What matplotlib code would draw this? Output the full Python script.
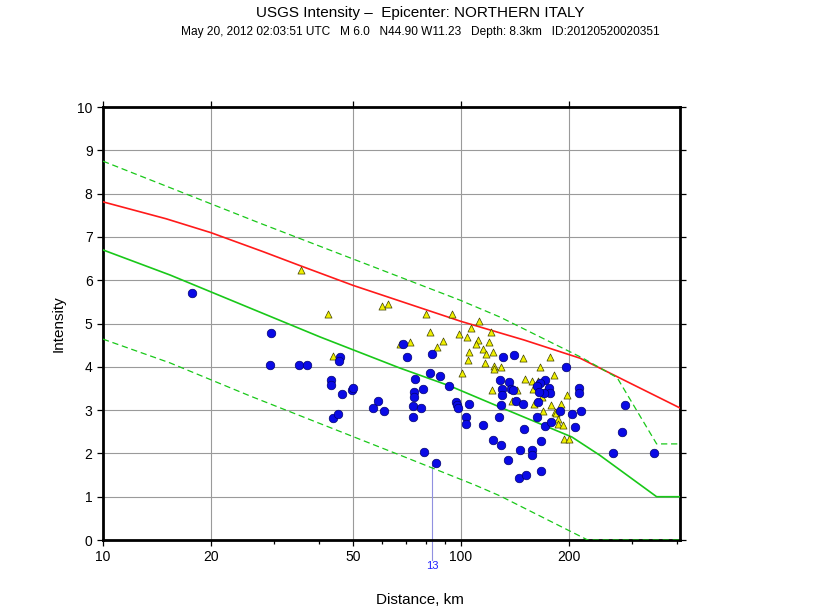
import matplotlib
matplotlib.use("Agg")
import matplotlib.pyplot as plt
from matplotlib.ticker import FixedLocator, NullFormatter

plt.rcParams["font.family"] = ["Liberation Sans", "DejaVu Sans"]

TITLE = "USGS Intensity \u2013  Epicenter: NORTHERN ITALY"
SUBTITLE = "May 20, 2012 02:03:51 UTC   M 6.0   N44.90 W11.23   Depth: 8.3km   ID:20120520020351"

# observed intensities (blue circles)
obs_dist = [17.7, 29.5, 29.3, 35.3, 37.1, 45.9, 45.6, 43.4, 43.4, 46.5, 49.6, 49.9,
            43.9, 45.3, 58.7, 56.8, 61.0, 68.9, 70.7, 83.0, 74.4, 81.9, 87.4, 92.6,
            78.3, 73.9, 73.9, 73.4, 77.3, 73.4, 78.8, 85.1, 96.8, 97.5, 98.1, 105.3,
            103.3, 103.3, 115.2, 129.3, 127.7, 131.0, 140.6, 128.5, 136.2, 130.2,
            130.2, 138.0, 139.8, 142.5, 149.1, 150.0, 122.9, 129.3, 135.3, 146.2,
            157.9, 157.9, 167.3, 145.2, 151.9, 167.3, 171.6, 178.4, 163.1, 196.5,
            171.6, 166.2, 163.1, 176.2, 177.3, 170.6, 165.2, 164.1, 213.6, 213.6,
            189.0, 204.2, 216.4, 208.2, 287.1, 281.6, 265.8, 346.0]
obs_mmi = [5.70, 4.78, 4.04, 4.04, 4.04, 4.23, 4.13, 3.70, 3.58, 3.37, 3.46, 3.51,
           2.82, 2.91, 3.21, 3.05, 2.98, 4.53, 4.23, 4.30, 3.72, 3.86, 3.79, 3.56,
           3.49, 3.42, 3.30, 3.09, 3.05, 2.84, 2.03, 1.78, 3.19, 3.12, 3.05, 3.14,
           2.84, 2.68, 2.66, 3.12, 2.84, 4.23, 4.27, 3.70, 3.65, 3.49,
           3.35, 3.49, 3.46, 3.21, 3.14, 2.56, 2.31, 2.19, 1.85, 2.08,
           2.08, 1.96, 2.29, 1.43, 1.50, 1.59, 2.63, 2.73, 2.84, 4.00,
           3.70, 3.63, 3.56, 3.51, 3.39, 3.39, 3.42, 3.19, 3.51, 3.39,
           2.98, 2.91, 2.98, 2.61, 3.12, 2.49, 2.01, 2.01]

# "Did you feel it" reports (yellow triangles)
dyfi_dist = [35.7, 42.5, 43.9, 60.2, 62.5, 79.8, 81.9, 89.1, 85.7, 72.0, 67.5, 94.4,
             112.3, 106.6, 98.7, 103.9, 121.3, 111.6, 110.2, 119.7, 115.2, 105.3,
             117.5, 122.9, 104.6, 116.7, 123.7, 123.7, 129.3, 149.1, 177.3, 166.2,
             181.9, 100.6, 151.0, 157.9, 164.1, 122.1, 143.4, 158.9, 172.7, 197.8,
             168.4, 138.9, 159.9, 178.4, 190.2, 169.5, 183.1, 184.3, 186.6, 186.6,
             192.7, 194.0, 200.3]
dyfi_mmi = [6.24, 5.22, 4.25, 5.40, 5.45, 5.22, 4.80, 4.60, 4.46, 4.57, 4.53, 5.22,
            5.06, 4.90, 4.76, 4.69, 4.80, 4.62, 4.53, 4.57, 4.41, 4.34,
            4.30, 4.34, 4.16, 4.09, 4.02, 3.95, 4.00, 4.20, 4.23, 4.00,
            3.81, 3.86, 3.72, 3.67, 3.67, 3.46, 3.46, 3.49, 3.49, 3.35,
            3.30, 3.21, 3.14, 3.12, 3.14, 2.98, 2.96, 2.93, 2.79, 2.68,
            2.66, 2.33, 2.33]

# red curve
red_dist = [10, 15, 20, 28, 35.7, 50, 100, 150, 215, 304, 409]
red_mmi = [7.81, 7.42, 7.10, 6.66, 6.33, 5.88, 5.05, 4.62, 4.20, 3.58, 3.05]

# green median and +/- curves
med_dist = [10, 15.4, 25.7, 40.4, 67.6, 93, 128.5, 204, 244, 352, 409]
med_mmi = [6.70, 6.12, 5.36, 4.69, 3.97, 3.56, 3.07, 2.38, 1.96, 1.0, 1.0]
up_dist = [10, 27.4, 99.4, 128.5, 219, 273, 352, 409]
up_mmi = [8.75, 7.32, 5.54, 5.15, 4.20, 3.75, 2.22, 2.22]
lo_dist = [10, 15.4, 25.7, 67.6, 109.4, 128.5, 226, 409]
lo_mmi = [4.64, 4.09, 3.33, 1.96, 1.27, 1.02, 0.0, 0.0]

MARK_DIST = 83.0
MARK_MMI = 1.78
MARK_LABEL = "13"

fig = plt.figure(figsize=(8.4, 6.12), dpi=100)
ax = fig.add_axes([0.1226, 0.1176, 0.6869, 0.7075])

ax.set_xscale("log")
ax.set_xlim(10, 409)
ax.set_ylim(0, 10)

ax.xaxis.set_major_locator(FixedLocator([10, 20, 50, 100, 200]))
ax.xaxis.set_minor_locator(FixedLocator([30, 40, 60, 70, 80, 90, 300, 400]))
ax.xaxis.set_minor_formatter(NullFormatter())
ax.set_xticklabels(["10", "20", "50", "100", "200"])
ax.set_yticks(range(0, 11))

ax.grid(True, which="major", color="#9a9a9a", linewidth=0.8)
ax.set_axisbelow(True)

ax.plot(red_dist, red_mmi, color="#ff1a1a", linewidth=1.2, zorder=3)
ax.plot(med_dist, med_mmi, color="#19c819", linewidth=1.2, zorder=3)
ax.plot(up_dist, up_mmi, color="#19c819", linewidth=0.9, linestyle=(0, (5, 3)), zorder=3)
ax.plot(lo_dist, lo_mmi, color="#19c819", linewidth=0.9, linestyle=(0, (5, 3)), zorder=3)

ax.scatter(dyfi_dist, dyfi_mmi, marker="^", s=26, color="#f0f000",
           edgecolors="#404000", linewidths=0.5, zorder=4)
ax.scatter(obs_dist, obs_mmi, marker="o", s=38, color="#0a0ae6",
           edgecolors="#000070", linewidths=0.5, zorder=5)

# marker line with count label below axis
ax.plot([MARK_DIST, MARK_DIST], [MARK_MMI - 0.05, -0.45], color="#9090e0",
        linewidth=0.8, clip_on=False, zorder=2)
ax.text(MARK_DIST, -0.48, MARK_LABEL, color="#2020ff", fontsize=8,
        ha="center", va="top", clip_on=False)

for s in ax.spines.values():
    s.set_linewidth(2.0)
ax.tick_params(which="both", direction="out", top=True, right=True,
               labeltop=False, labelright=False, labelsize=10, width=0.9)
ax.tick_params(which="major", length=4)
ax.tick_params(which="minor", length=3, top=False)

ax.set_ylabel("Intensity", fontsize=11, labelpad=8)
fig.text(0.5, 0.019, "Distance, km", ha="center", va="center", fontsize=11)
fig.text(0.5, 0.978, TITLE, ha="center", va="center", fontsize=11)
fig.text(0.5, 0.948, SUBTITLE, ha="center", va="center", fontsize=8.6)

fig.savefig("out.png", dpi=100, facecolor="white")
